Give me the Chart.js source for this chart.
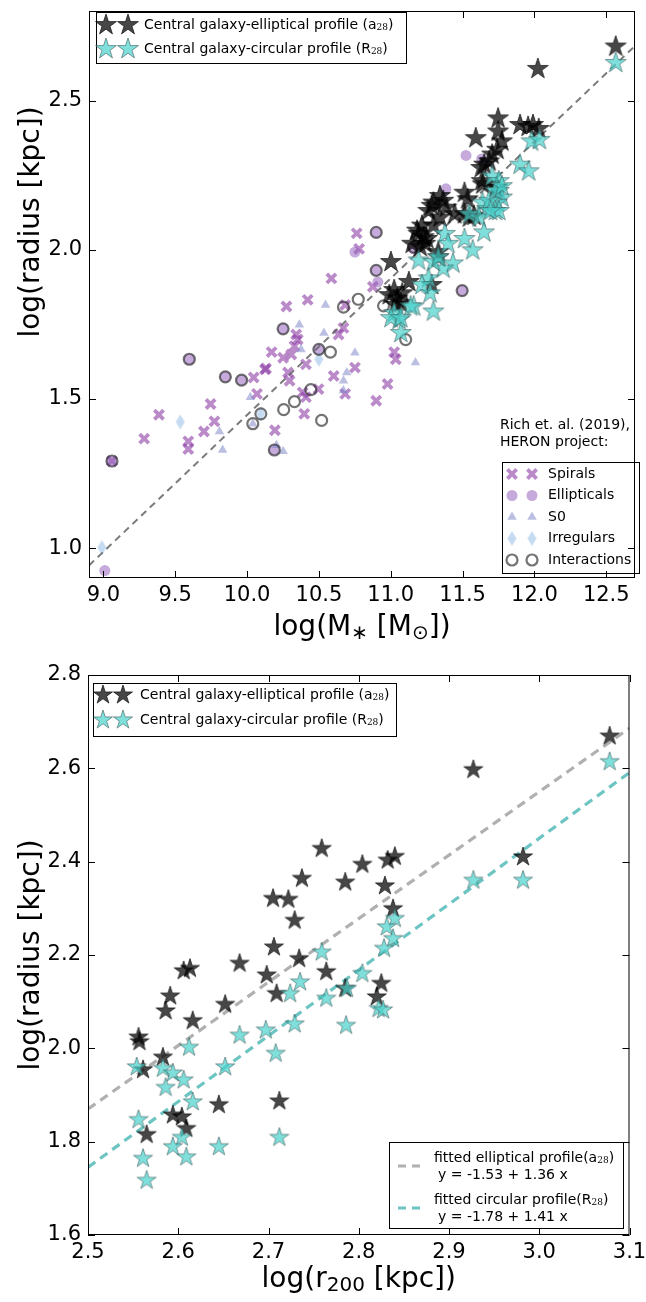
<!DOCTYPE html>
<html>
<head>
<meta charset="utf-8">
<script src="https://cdn.jsdelivr.net/npm/chart.js@4.4.0/dist/chart.umd.min.js"></script>
<style>
  html, body { margin: 0; padding: 0; background: #fff; }
  .panel { position: relative; width: 646px; }
</style>
</head>
<body>
<div class="panel" style="height:650px"><canvas id="topChart"></canvas></div>
<div class="panel" style="height:652px"><canvas id="bottomChart"></canvas></div>
<script>
// ---- top panel: log(M*) vs log(radius) ----
const ellTopX = [12.566, 12.024, 11.747, 11.900, 11.956, 11.990, 12.030, 11.592, 11.747, 11.774,
  11.740, 11.706, 11.685, 11.650, 11.630, 11.633, 11.740, 11.513, 11.342, 11.365,
  11.285, 11.387, 11.445, 11.513, 11.547, 11.297, 11.262, 11.535, 11.580, 11.640,
  11.730, 11.342, 11.297, 11.217, 11.194, 11.251, 11.331, 11.331, 11.240, 11.126,
  11.285, 11.080, 11.046, 11.070, 11.024, 10.990, 11.035, 11.183, 11.229, 11.149,
  11.206, 11.001];
const ellTopY = [2.681, 2.606, 2.440, 2.418, 2.412, 2.418, 2.405, 2.374, 2.396, 2.363,
  2.335, 2.319, 2.296, 2.285, 2.274, 2.230, 2.208, 2.191, 2.180, 2.164,
  2.147, 2.141, 2.119, 2.119, 2.108, 2.158, 2.130, 2.169, 2.114, 2.219,
  2.208, 2.108, 2.081, 2.081, 2.053, 2.036, 1.992, 1.975, 2.020, 1.892,
  1.882, 1.854, 1.837, 1.821, 1.865, 1.848, 1.815, 2.064, 2.042, 2.020,
  2.009, 1.959];
const circTopX = [12.566, 11.980, 12.035, 11.900, 11.960, 11.706, 11.752, 11.752, 11.774, 11.740,
  11.638, 11.672, 11.729, 11.547, 11.615, 11.649, 11.513, 11.570, 11.433, 11.365,
  11.194, 11.297, 11.331, 11.263, 11.274, 11.297, 11.217, 11.160, 11.070, 11.058,
  11.024, 11.684, 11.752, 11.694, 11.729, 11.774, 11.377, 11.399, 11.001, 11.070,
  11.138];
const circTopY = [2.626, 2.363, 2.368, 2.285, 2.263, 2.246, 2.230, 2.197, 2.175, 2.158,
  2.158, 2.136, 2.130, 2.119, 2.108, 2.058, 2.036, 1.998, 1.954, 1.937,
  1.964, 1.959, 1.975, 1.904, 1.854, 1.793, 1.882, 1.810, 1.721, 1.765,
  1.788, 2.164, 2.130, 2.130, 2.197, 2.213, 2.053, 2.020, 1.771, 1.771,
  1.810];
const spiralX = [9.284, 9.387, 9.591, 9.591, 9.700, 9.773, 9.746, 10.069, 10.194, 10.296,
  10.410, 10.398, 10.497, 10.683, 10.899, 10.978, 10.171, 10.132, 10.046, 10.763,
  10.780, 10.587, 10.422, 10.274, 10.876, 10.683, 10.342, 10.353, 10.330, 10.251,
  10.308, 10.410, 10.285, 10.125, 10.603, 10.751, 10.671, 10.637, 11.024, 11.035,
  10.387, 9.060];
const spiralY = [1.367, 1.447, 1.358, 1.332, 1.391, 1.425, 1.483, 1.517, 1.395, 1.561,
  1.506, 1.450, 1.533, 1.517, 1.494, 1.550, 1.657, 1.602, 1.572, 2.055,
  2.003, 1.904, 1.832, 1.810, 1.876, 1.815, 1.716, 1.699, 1.677, 1.638,
  1.649, 1.616, 1.589, 1.599, 1.577, 1.605, 1.738, 1.716, 1.657, 1.633,
  1.522, 1.292];
const ellipX = [9.010, 9.057, 9.598, 9.849, 9.962, 10.190, 10.251, 10.751, 10.899, 10.910,
  10.899, 11.497, 11.524, 11.384, 11.633, 10.500, 11.160];
const ellipY = [0.925, 1.292, 1.633, 1.574, 1.563, 1.329, 1.735, 1.992, 2.058, 1.892,
  1.931, 1.863, 2.316, 2.204, 2.304, 1.666, 2.003];
const s0X = [10.023, 9.808, 9.830, 10.205, 10.251, 10.671, 10.671, 10.546, 10.364, 10.535,
  10.376, 10.751, 11.172, 10.694, 10.040];
const s0Y = [1.506, 1.391, 1.329, 1.345, 1.325, 1.561, 1.528, 1.815, 1.749, 1.721,
  1.666, 1.655, 1.622, 1.589, 1.417];
const irrX = [8.990, 9.535, 10.500, 10.096];
const irrY = [1.002, 1.423, 1.633, 1.450];
const interX = [9.060, 9.598, 9.849, 9.962, 10.040, 10.096, 10.190, 10.255, 10.330, 10.444,
  10.519, 10.899, 10.899, 10.774, 10.671, 10.950, 10.251, 10.500, 10.580, 11.160,
  11.104, 11.497];
const interY = [1.292, 1.633, 1.574, 1.563, 1.417, 1.450, 1.329, 1.464, 1.491, 1.531,
  1.428, 2.058, 1.931, 1.834, 1.808, 1.812, 1.735, 1.666, 1.657, 2.009,
  1.699, 1.863];
const fitTopX = [8.9, 12.7];
const fitTopY = [0.942, 2.683];
const topXTicks = [9.0, 9.5, 10.0, 10.5, 11.0, 11.5, 12.0, 12.5];
const topYTicks = [1.0, 1.5, 2.0, 2.5];

// ---- bottom panel: log(r200) vs log(radius) ----
const ellBotX = [2.737, 2.705, 2.722, 2.729, 2.706, 2.734, 2.668, 2.606, 2.613, 2.698,
  2.709, 2.591, 2.586, 2.652, 2.616, 2.556, 2.557, 2.583, 2.561, 2.645,
  2.712, 2.594, 2.604, 2.609, 2.565, 2.927, 2.759, 2.804, 2.832, 2.840,
  2.785, 2.829, 2.838, 2.764, 2.785, 2.825, 2.820, 2.982, 3.078];
const ellBotY = [2.364, 2.321, 2.319, 2.274, 2.217, 2.192, 2.182, 2.166, 2.171, 2.157,
  2.117, 2.112, 2.080, 2.094, 2.059, 2.024, 2.014, 1.981, 1.954, 1.879,
  1.887, 1.857, 1.853, 1.828, 1.815, 2.597, 2.428, 2.394, 2.403, 2.411,
  2.356, 2.348, 2.299, 2.164, 2.128, 2.139, 2.110, 2.410, 2.669];
const circBotX = [2.612, 2.554, 2.583, 2.594, 2.606, 2.586, 2.652, 2.668, 2.697, 2.708,
  2.729, 2.616, 2.556, 2.604, 2.594, 2.561, 2.609, 2.645, 2.712, 2.724,
  2.735, 2.565, 2.927, 2.840, 2.831, 2.838, 2.828, 2.759, 2.804, 2.764,
  2.787, 2.822, 2.827, 2.786, 2.982, 3.078];
const circBotY = [2.002, 1.960, 1.957, 1.947, 1.932, 1.916, 1.960, 2.028, 2.039, 1.989,
  2.052, 1.885, 1.847, 1.809, 1.789, 1.764, 1.767, 1.789, 1.809, 2.117,
  2.142, 1.717, 2.360, 2.278, 2.260, 2.235, 2.214, 2.206, 2.160, 2.107,
  2.128, 2.085, 2.082, 2.049, 2.360, 2.614];
const fitBotX = [2.5, 3.1];
const fitEllY = [1.87, 2.686];
const fitCircY = [1.745, 2.591];
const botXTicks = [2.5, 2.6, 2.7, 2.8, 2.9, 3.0, 3.1];
const botYTicks = [1.6, 1.8, 2.0, 2.2, 2.4, 2.6, 2.8];

// colours
const BLACK_FILL = 'rgba(0,0,0,0.72)';
const CYAN_FILL = 'rgba(72,209,204,0.7)';
const SPIRAL_C = 'rgba(140,60,165,0.6)';
const ELLIP_C = 'rgba(150,100,190,0.55)';
const S0_C = 'rgba(120,130,200,0.5)';
const IRR_C = 'rgba(150,190,230,0.55)';
const INTER_C = 'rgba(40,40,40,0.65)';
const FONT = "'DejaVu Sans'";
const LEG = 14;

function pts(xs, ys) {
  return xs.map((x, i) => ({ x: x, y: ys[i] }));
}

// matplotlib-like filled star marker
function starImg(r, fill, stroke) {
  const c = document.createElement('canvas');
  const s = Math.ceil(2 * r + 4);
  c.width = s; c.height = s;
  const g = c.getContext('2d');
  g.translate(s / 2, s / 2);
  g.beginPath();
  for (let k = 0; k < 10; k++) {
    const rr = k % 2 === 0 ? r : r * 0.382;
    const a = -Math.PI / 2 + k * Math.PI / 5;
    g.lineTo(rr * Math.cos(a), rr * Math.sin(a));
  }
  g.closePath();
  g.fillStyle = fill; g.fill();
  g.lineWidth = 0.8; g.strokeStyle = stroke; g.stroke();
  return c;
}

function thinDiamond(w, h, fill) {
  const c = document.createElement('canvas');
  c.width = w + 2; c.height = h + 2;
  const g = c.getContext('2d');
  g.translate(c.width / 2, c.height / 2);
  g.beginPath();
  g.moveTo(0, -h / 2); g.lineTo(w / 2, 0); g.lineTo(0, h / 2); g.lineTo(-w / 2, 0);
  g.closePath();
  g.fillStyle = fill; g.fill();
  return c;
}

const blackStarTop = starImg(11, BLACK_FILL, 'rgba(0,0,0,0.8)');
const cyanStarTop = starImg(11, CYAN_FILL, 'rgba(60,90,90,0.75)');
const blackStarBot = starImg(10, BLACK_FILL, 'rgba(0,0,0,0.8)');
const cyanStarBot = starImg(10, CYAN_FILL, 'rgba(60,90,90,0.75)');
const diamondImg = thinDiamond(9, 15, IRR_C);

// text with sub-scripts: segs = [[text, kind]]
function drawRich(ctx, segs, x, y, size, align) {
  const parts = segs.map(([t, k]) => {
    let font = size + 'px ' + FONT, dy = 0;
    if (k === 'sub') { font = Math.round(size * 0.7) + 'px ' + FONT; dy = size * 0.22; }
    if (k === 'msub') { font = Math.round(size * 0.62) + "px 'DejaVu Serif'"; dy = size * 0.18; }
    ctx.font = font;
    return { t: t, font: font, dy: dy, w: ctx.measureText(t).width };
  });
  const total = parts.reduce((a, p) => a + p.w, 0);
  let cx = align === 'center' ? x - total / 2 : x;
  ctx.textAlign = 'left';
  ctx.textBaseline = 'middle';
  parts.forEach(p => {
    ctx.font = p.font;
    ctx.fillText(p.t, cx, y + p.dy);
    cx += p.w;
  });
}

// box, inward ticks on all sides, tick labels
function drawFrame(chart, xTicks, yTicks) {
  const { ctx, chartArea: a, scales: { x, y } } = chart;
  const TL = 7;
  ctx.save();
  ctx.strokeStyle = '#000';
  ctx.lineWidth = 1;
  ctx.strokeRect(a.left + 0.5, a.top + 0.5, a.right - a.left - 1, a.bottom - a.top - 1);
  ctx.beginPath();
  xTicks.forEach(v => {
    const px = Math.round(x.getPixelForValue(v)) + 0.5;
    ctx.moveTo(px, a.bottom); ctx.lineTo(px, a.bottom - TL);
    ctx.moveTo(px, a.top); ctx.lineTo(px, a.top + TL);
  });
  yTicks.forEach(v => {
    const py = Math.round(y.getPixelForValue(v)) + 0.5;
    ctx.moveTo(a.left, py); ctx.lineTo(a.left + TL, py);
    ctx.moveTo(a.right, py); ctx.lineTo(a.right - TL, py);
  });
  ctx.stroke();
  ctx.fillStyle = '#000';
  ctx.font = '21px ' + FONT;
  ctx.textAlign = 'center';
  ctx.textBaseline = 'top';
  xTicks.forEach(v => ctx.fillText(v.toFixed(1), x.getPixelForValue(v), a.bottom + 7));
  ctx.textAlign = 'right';
  ctx.textBaseline = 'middle';
  yTicks.forEach(v => ctx.fillText(v.toFixed(1), a.left - 7, y.getPixelForValue(v)));
  ctx.restore();
}

function drawYTitle(ctx, x, y) {
  ctx.save();
  ctx.translate(x, y);
  ctx.rotate(-Math.PI / 2);
  ctx.fillStyle = '#000';
  drawRich(ctx, [['log(radius [kpc])']], 0, 0, 28, 'center');
  ctx.restore();
}

function starLegend(ctx, box, rows, imgs, starXs, textX) {
  ctx.save();
  ctx.fillStyle = '#fff';
  ctx.fillRect(box[0], box[1], box[2], box[3]);
  ctx.strokeStyle = '#000';
  ctx.lineWidth = 1;
  ctx.strokeRect(box[0] + 0.5, box[1] + 0.5, box[2], box[3]);
  rows.forEach((r, i) => {
    starXs.forEach(sx => ctx.drawImage(imgs[i], sx - imgs[i].width / 2, r.y - imgs[i].height / 2));
    ctx.fillStyle = '#000';
    drawRich(ctx, r.segs, textX, r.y, LEG, 'left');
  });
  ctx.restore();
}

function baseOptions(xmin, xmax, ymin, ymax, yw, xh, pad) {
  return {
    responsive: true,
    maintainAspectRatio: false,
    animation: false,
    events: [],
    layout: { padding: pad },
    plugins: { legend: { display: false }, tooltip: { enabled: false } },
    scales: {
      x: {
        type: 'linear', min: xmin, max: xmax,
        grid: { display: false, drawTicks: false }, border: { display: false },
        ticks: { display: false },
        afterFit(s) { s.height = xh; }
      },
      y: {
        type: 'linear', min: ymin, max: ymax,
        grid: { display: false, drawTicks: false }, border: { display: false },
        ticks: { display: false },
        afterFit(s) { s.width = yw; }
      }
    }
  };
}

const topDecor = {
  id: 'topDecor',
  afterDraw(chart) {
    const ctx = chart.ctx;
    const a = chart.chartArea;
    drawFrame(chart, topXTicks, topYTicks);
    ctx.save();
    ctx.fillStyle = '#000';
    drawRich(ctx, [['log(M'], ['\u2217', 'sub'], [' [M'], ['\u2299', 'sub'], ['])']],
      (a.left + a.right) / 2, 628, 28, 'center');
    drawYTitle(ctx, 32, 222);

    starLegend(ctx, [96, 12, 310, 51], [
      { y: 25, segs: [['Central galaxy-elliptical profile (a'], ['28', 'msub'], [')']] },
      { y: 49, segs: [['Central galaxy-circular profile (R'], ['28', 'msub'], [')']] }
    ], [blackStarTop, cyanStarTop], [106, 128], 144);

    // HERON legend
    ctx.fillStyle = '#000';
    drawRich(ctx, [['Rich et. al. (2019),']], 500, 425, LEG, 'left');
    drawRich(ctx, [['HERON project:']], 500, 442, LEG, 'left');
    ctx.strokeStyle = '#000';
    ctx.lineWidth = 1;
    ctx.strokeRect(502.5, 462.5, 137, 111);
    const items = [
      { label: 'Spirals', draw: (x, y) => { ctx.strokeStyle = SPIRAL_C; ctx.lineWidth = 3.8; Chart.helpers.drawPoint(ctx, { pointStyle: 'crossRot', radius: 6.5, rotation: 0, borderWidth: 3.8 }, x, y); } },
      { label: 'Ellipticals', draw: (x, y) => { ctx.fillStyle = ELLIP_C; Chart.helpers.drawPoint(ctx, { pointStyle: 'circle', radius: 5.5, rotation: 0, borderWidth: 0 }, x, y); } },
      { label: 'S0', draw: (x, y) => { ctx.fillStyle = S0_C; Chart.helpers.drawPoint(ctx, { pointStyle: 'triangle', radius: 5.5, rotation: 0, borderWidth: 0 }, x, y); } },
      { label: 'Irregulars', draw: (x, y) => { ctx.drawImage(diamondImg, x - diamondImg.width / 2, y - diamondImg.height / 2); } },
      { label: 'Interactions', draw: (x, y) => { ctx.fillStyle = 'rgba(0,0,0,0)'; ctx.strokeStyle = INTER_C; ctx.lineWidth = 2.2; Chart.helpers.drawPoint(ctx, { pointStyle: 'circle', radius: 5.5, rotation: 0, borderWidth: 2.2 }, x, y); } }
    ];
    items.forEach((it, i) => {
      const y = 474 + i * 21.5;
      ctx.save(); it.draw(512, y); ctx.restore();
      ctx.save(); it.draw(532, y); ctx.restore();
      ctx.fillStyle = '#000';
      drawRich(ctx, [[it.label]], 548, y, LEG, 'left');
    });
    ctx.restore();
  }
};

const bottomDecor = {
  id: 'bottomDecor',
  afterDraw(chart) {
    const ctx = chart.ctx;
    const a = chart.chartArea;
    drawFrame(chart, botXTicks, botYTicks);
    ctx.save();
    ctx.fillStyle = '#000';
    drawRich(ctx, [['log(r'], ['200', 'sub'], [' [kpc])']], (a.left + a.right) / 2, 630, 28, 'center');
    drawYTitle(ctx, 32, (a.top + a.bottom) / 2);

    starLegend(ctx, [93, 33, 303, 53], [
      { y: 45, segs: [['Central galaxy-elliptical profile (a'], ['28', 'msub'], [')']] },
      { y: 70, segs: [['Central galaxy-circular profile (R'], ['28', 'msub'], [')']] }
    ], [blackStarBot, cyanStarBot], [103, 123], 140);

    // fit legend
    ctx.fillStyle = '#fff';
    ctx.fillRect(389, 492, 234, 86);
    ctx.strokeStyle = '#000';
    ctx.lineWidth = 1;
    ctx.strokeRect(389.5, 492.5, 234, 86);
    const fits = [
      { c: '#b0b0b0', y: 516, l1: [['fitted elliptical profile(a'], ['28', 'msub'], [')']], l2: 'y = -1.53 + 1.36 x' },
      { c: '#6cc5c2', y: 558, l1: [['fitted circular profile(R'], ['28', 'msub'], [')']], l2: 'y = -1.78 + 1.41 x' }
    ];
    fits.forEach(f => {
      ctx.save();
      ctx.strokeStyle = f.c;
      ctx.lineWidth = 3.2;
      ctx.setLineDash([8, 6]);
      ctx.beginPath(); ctx.moveTo(398, f.y); ctx.lineTo(420, f.y); ctx.stroke();
      ctx.restore();
      ctx.fillStyle = '#000';
      drawRich(ctx, f.l1, 434, f.y - 8, LEG, 'left');
      drawRich(ctx, [[f.l2]], 438, f.y + 9, LEG, 'left');
    });
    ctx.restore();
  }
};

new Chart(document.getElementById('topChart'), {
  type: 'scatter',
  data: {
    datasets: [
      { label: 'circular', data: pts(circTopX, circTopY), pointStyle: cyanStarTop, pointRadius: 10 },
      { label: 'elliptical', data: pts(ellTopX, ellTopY), pointStyle: blackStarTop, pointRadius: 10 },
      { label: 'fit', data: pts(fitTopX, fitTopY), showLine: true, pointRadius: 0,
        borderColor: 'rgba(90,90,90,0.8)', borderWidth: 2, borderDash: [7, 5] },
      { label: 'Interactions', data: pts(interX, interY), pointStyle: 'circle', pointRadius: 5.5,
        backgroundColor: 'rgba(0,0,0,0)', borderColor: INTER_C, borderWidth: 2.2 },
      { label: 'Irregulars', data: pts(irrX, irrY), pointStyle: diamondImg, pointRadius: 6 },
      { label: 'S0', data: pts(s0X, s0Y), pointStyle: 'triangle', pointRadius: 5.5,
        backgroundColor: S0_C, borderWidth: 0 },
      { label: 'Ellipticals', data: pts(ellipX, ellipY), pointStyle: 'circle', pointRadius: 5.5,
        backgroundColor: ELLIP_C, borderWidth: 0 },
      { label: 'Spirals', data: pts(spiralX, spiralY), pointStyle: 'crossRot', pointRadius: 6.5,
        borderColor: SPIRAL_C, borderWidth: 3.8 }
    ]
  },
  options: baseOptions(8.9, 12.7, 0.9, 2.8, 89, 72, { top: 6, right: 1, left: 0, bottom: 0 }),
  plugins: [topDecor]
});

new Chart(document.getElementById('bottomChart'), {
  type: 'scatter',
  data: {
    datasets: [
      { label: 'circular', data: pts(circBotX, circBotY), pointStyle: cyanStarBot, pointRadius: 10 },
      { label: 'elliptical', data: pts(ellBotX, ellBotY), pointStyle: blackStarBot, pointRadius: 10 },
      { label: 'fit ell', data: pts(fitBotX, fitEllY), showLine: true, pointRadius: 0,
        borderColor: '#b0b0b0', borderWidth: 3.2, borderDash: [9, 6] },
      { label: 'fit circ', data: pts(fitBotX, fitCircY), showLine: true, pointRadius: 0,
        borderColor: '#6cc5c2', borderWidth: 3.2, borderDash: [9, 6] }
    ]
  },
  options: baseOptions(2.5, 3.1, 1.6, 2.8, 88, 67, { top: 25, right: 16.5, left: 0, bottom: 0 }),
  plugins: [bottomDecor]
});
</script>
</body>
</html>
